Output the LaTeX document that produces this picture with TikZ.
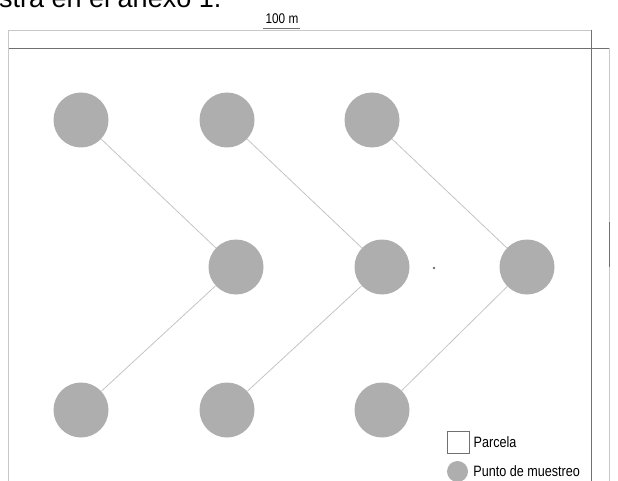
\documentclass[tikz,border=0pt]{standalone}
\usepackage{fontspec}
\setmainfont{Liberation Sans}
\newfontfamily\narrowsans[FakeStretch=0.84]{Liberation Sans}
\usetikzlibrary{positioning}

\begin{document}
\begin{tikzpicture}[x=1pt, y=-1pt,
  punto/.style={circle, fill=puntogray, inner sep=0pt, minimum size=55pt},
  enlace/.style={draw=enlacegray, line width=0.8pt},
  marcoclaro/.style={draw=marcolight, line width=0.9pt},
  marcooscuro/.style={draw=marcodark, line width=1pt},
  leyenda/.style={font=\narrowsans\fontsize{15}{17}\selectfont, anchor=west, inner sep=1pt}]

% Colors
\definecolor{puntogray}{RGB}{174,174,174}   % sampling points
\definecolor{enlacegray}{RGB}{196,196,196}  % zig-zag path
\definecolor{marcolight}{RGB}{200,200,200}  % light frame lines
\definecolor{marcodark}{RGB}{112,112,112}   % dark frame lines

\useasboundingbox (0,0) rectangle (618,481);
\clip (0,0) rectangle (618,481);

% Cut-off text line above the figure
\node[anchor=base west, inner sep=0pt, font=\fontsize{27}{30}\selectfont] (texto) at (-1,7.5) {stra en el anexo 1.};

% Plot frame
\draw[marcoclaro] (8.7,481) -- (8.7,30) -- (591,30);
\draw[marcooscuro] (8.7,48.5) -- (609,48.5);
\draw[marcooscuro] (591,30) -- (591,481);
\draw[marcoclaro] (609,48.5) -- (609,481);

% Dimension marks
\node[font=\narrowsans\fontsize{14}{16}\selectfont, inner sep=0pt, anchor=base] (ancho) at (282,24) {100 m};
\draw[marcooscuro] (ancho.south west) ++(-2,4) -- ++(37,0);
\draw[marcooscuro] (609,222) -- (609,267);

% Sampling points
\foreach \n/\x/\y in {a/81/120, b/227/120, c/372/120,
                      d/236/267, e/382/267, f/527/267,
                      g/81/410, h/227/410, i/382/410} {
  \node[punto] (\n) at (\x,\y) {};
}

% Zig-zag path
\draw[enlace] (a) -- (d) -- (g);
\draw[enlace] (b) -- (e) -- (h);
\draw[enlace] (c) -- (f) -- (i);

% Stray dot
\fill[marcodark] (434,268) circle (1.3);

% Legend
\node[draw=marcodark, line width=1pt, minimum size=22pt, inner sep=0pt] (parcela) at (458,442) {};
\node[leyenda, right=3pt of parcela] (parcelatxt) {Parcela};
\node[punto, minimum size=21pt] (muestra) at (457.5,471.5) {};
\node[leyenda, right=4pt of muestra] (muestratxt) {Punto de muestreo};

\end{tikzpicture}
\end{document}
